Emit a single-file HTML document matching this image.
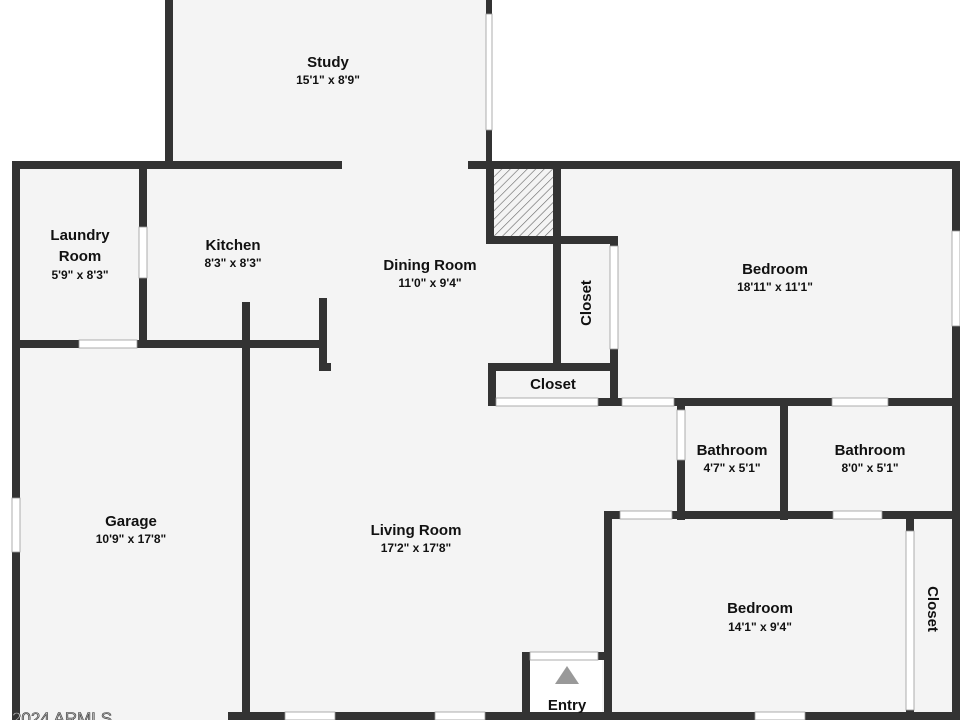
<!DOCTYPE html>
<html><head><meta charset="utf-8"><style>
html,body{margin:0;padding:0;background:#fff;}
svg{display:block;}
text{font-family:"Liberation Sans","DejaVu Sans",sans-serif;fill:#111;text-anchor:middle;}
.n{font-size:15px;font-weight:bold;}
.d{font-size:12px;font-weight:bold;}
</style></head><body>
<svg width="960" height="720" viewBox="0 0 960 720" xmlns="http://www.w3.org/2000/svg">
<defs>
<pattern id="h" width="6" height="6" patternUnits="userSpaceOnUse" patternTransform="rotate(45)">
<rect width="6" height="6" fill="#f4f4f4"/><line x1="0" y1="0" x2="0" y2="6" stroke="#666" stroke-width="1.2"/>
</pattern>
</defs>
<g fill="#f4f4f4">
<rect x="169" y="0" width="321" height="170"/>
<rect x="16" y="165" width="940" height="555"/>
</g>
<!-- white areas outside -->
<rect x="490" y="0" width="470" height="165" fill="#fff"/>
<rect x="528" y="658" width="74" height="62" fill="#fff"/>
<rect x="490" y="169" width="64" height="71" fill="url(#h)"/>
<g fill="#333">
<!-- study -->
<rect x="165" y="0" width="8" height="165"/>
<rect x="486" y="0" width="6" height="14"/>
<rect x="486" y="130" width="6" height="38"/>
<!-- top walls -->
<rect x="12" y="161" width="330" height="8"/>
<rect x="468" y="161" width="492" height="8"/>
<!-- left outer -->
<rect x="12" y="161" width="8" height="559"/>
<rect x="12" y="498" width="8" height="54" fill="#fff"/>
<!-- laundry -->
<rect x="139" y="165" width="8" height="62"/>
<rect x="139" y="278" width="8" height="70"/>
<rect x="12" y="340" width="67" height="8"/>
<rect x="137" y="340" width="188" height="8"/>
<!-- kitchen/living -->
<rect x="242" y="302" width="8" height="418"/>
<rect x="319" y="298" width="8" height="72"/>
<rect x="319" y="363" width="12" height="8"/>
<!-- chimney / closets -->
<rect x="486" y="165" width="8" height="79"/>
<rect x="553" y="165" width="8" height="205"/>
<rect x="486" y="236" width="132" height="8"/>
<rect x="610" y="236" width="8" height="10"/>
<rect x="610" y="349" width="8" height="57"/>
<rect x="488" y="363" width="130" height="8"/>
<rect x="488" y="363" width="8" height="43"/>
<rect x="598" y="398" width="24" height="8"/>
<rect x="674" y="398" width="158" height="8"/>
<rect x="888" y="398" width="72" height="8"/>
<!-- bedroom right -->
<rect x="952" y="161" width="8" height="70"/>
<rect x="952" y="326" width="8" height="80"/>
<!-- bathrooms -->
<rect x="677" y="460" width="8" height="60"/>
<rect x="677" y="402" width="8" height="8"/>
<rect x="780" y="402" width="8" height="118"/>
<rect x="606" y="511" width="14" height="8"/>
<rect x="672" y="511" width="161" height="8"/>
<rect x="882" y="511" width="78" height="8"/>
<rect x="952" y="406" width="8" height="314"/>
<!-- bedroom 2 -->
<rect x="604" y="511" width="8" height="209"/>
<rect x="906" y="516" width="8" height="15"/>
<rect x="906" y="710" width="8" height="10"/>
<!-- entry -->
<rect x="522" y="652" width="8" height="68"/>
<rect x="522" y="652" width="8" height="8"/>
<rect x="598" y="652" width="8" height="8"/>
<!-- bottom -->
<rect x="228" y="712" width="732" height="8"/>
</g>
<!-- windows / doors as white gaps with thin lines -->
<g fill="#fff" stroke="#999" stroke-width="0.8">
<rect x="486" y="14" width="6" height="116"/>
<rect x="139" y="227" width="8" height="51"/>
<rect x="79" y="340" width="58" height="8"/>
<rect x="610" y="246" width="8" height="103"/>
<rect x="496" y="398" width="102" height="8"/>
<rect x="622" y="398" width="52" height="8"/>
<rect x="832" y="398" width="56" height="8"/>
<rect x="952" y="231" width="8" height="95"/>
<rect x="677" y="410" width="8" height="50"/>
<rect x="620" y="511" width="52" height="8"/>
<rect x="833" y="511" width="49" height="8"/>
<rect x="906" y="531" width="8" height="179"/>
<rect x="530" y="652" width="68" height="8"/>
<rect x="285" y="712" width="50" height="8"/>
<rect x="435" y="712" width="50" height="8"/>
<rect x="755" y="712" width="50" height="8"/>
<rect x="12" y="498" width="8" height="54"/>
</g>
<polygon points="567,666 555,684 579,684" fill="#999"/>
<!-- labels -->
<text class="n" x="328" y="67">Study</text><text class="d" x="328" y="84">15'1" x 8'9"</text>
<text class="n" x="80" y="240">Laundry</text><text class="n" x="80" y="261">Room</text><text class="d" x="80" y="279">5'9" x 8'3"</text>
<text class="n" x="233" y="250">Kitchen</text><text class="d" x="233" y="267">8'3" x 8'3"</text>
<text class="n" x="430" y="270">Dining Room</text><text class="d" x="430" y="287">11'0" x 9'4"</text>
<text class="n" x="775" y="274">Bedroom</text><text class="d" x="775" y="291">18'11" x 11'1"</text>
<text class="n" x="553" y="389">Closet</text>
<text class="n" transform="translate(591,303) rotate(-90)">Closet</text>
<text class="n" x="732" y="455">Bathroom</text><text class="d" x="732" y="472">4'7" x 5'1"</text>
<text class="n" x="870" y="455">Bathroom</text><text class="d" x="870" y="472">8'0" x 5'1"</text>
<text class="n" x="131" y="526">Garage</text><text class="d" x="131" y="543">10'9" x 17'8"</text>
<text class="n" x="416" y="535">Living Room</text><text class="d" x="416" y="552">17'2" x 17'8"</text>
<text class="n" x="760" y="613">Bedroom</text><text class="d" x="760" y="631">14'1" x 9'4"</text>
<text class="n" transform="translate(928,609) rotate(90)">Closet</text>
<text class="n" x="567" y="710">Entry</text>
<text x="62" y="724" style="font-size:17px;fill:#bbb;stroke:#333;stroke-width:0.6">2024 ARMLS</text>
</svg>
</body></html>
